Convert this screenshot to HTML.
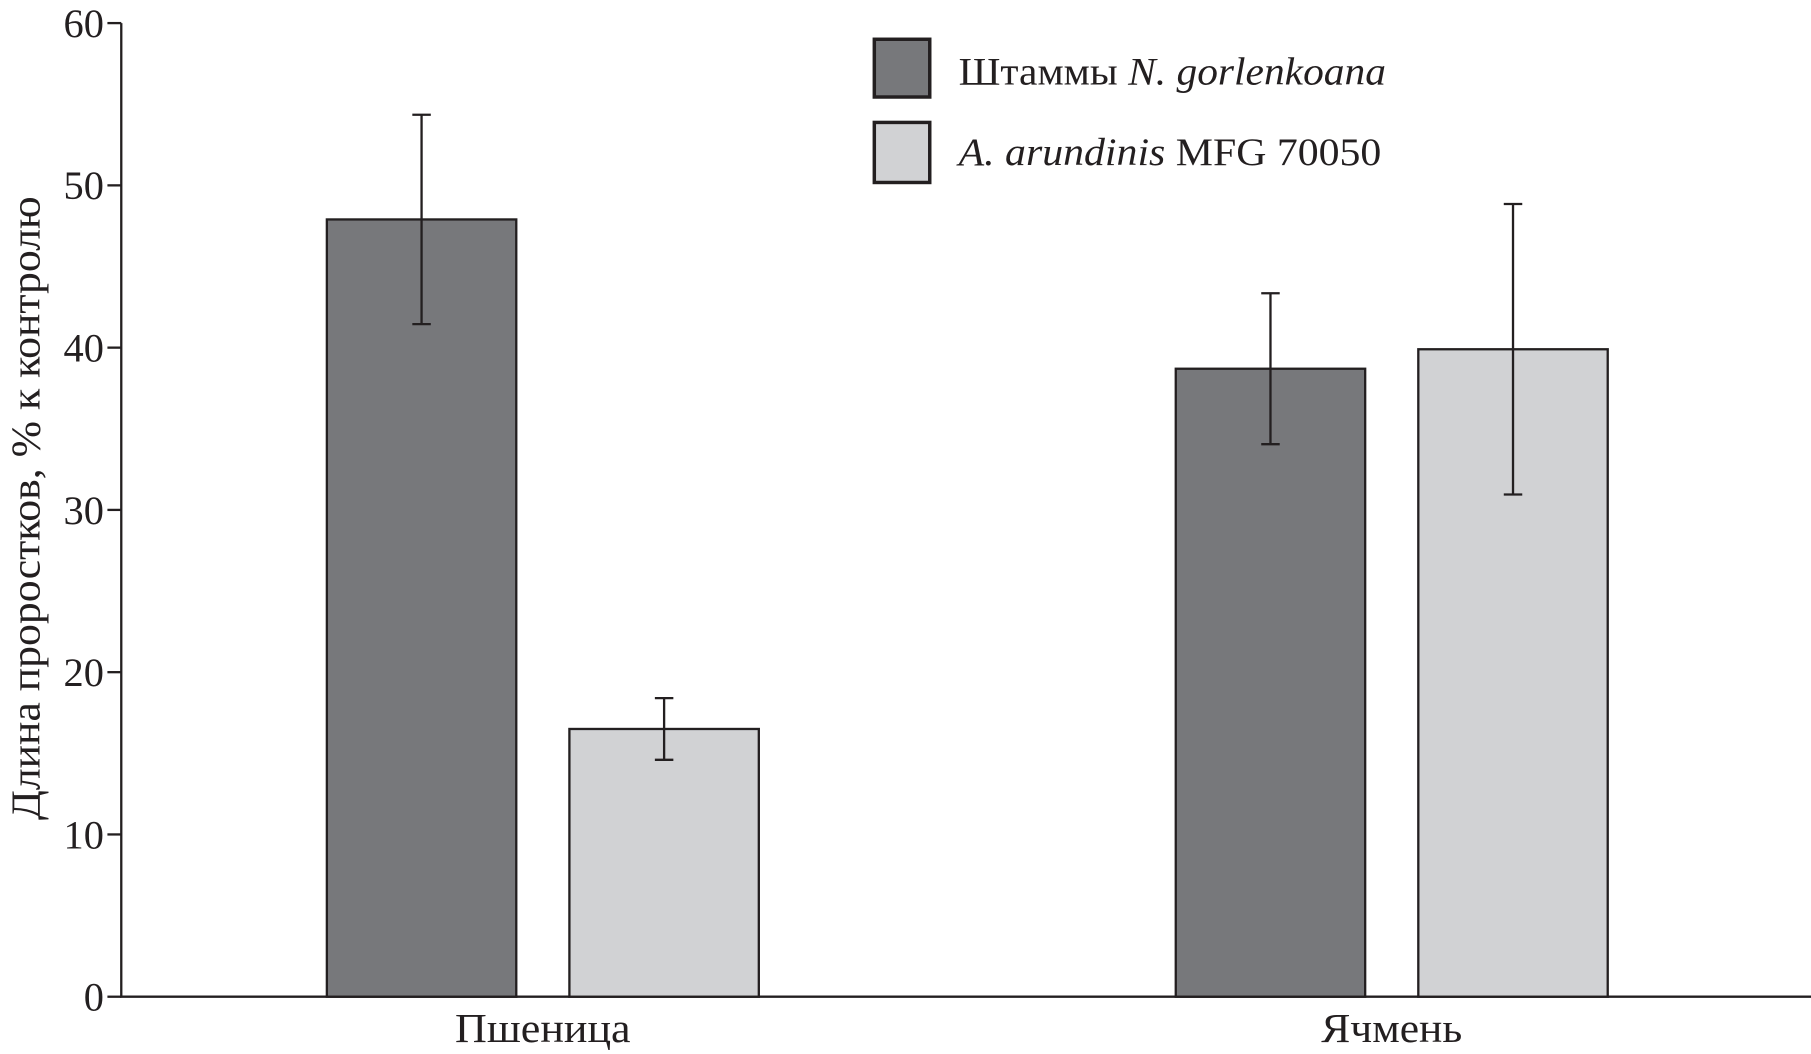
<!DOCTYPE html>
<html><head><meta charset="utf-8"><style>html,body{margin:0;padding:0;background:#fff}svg{display:block}text{font-family:"Liberation Serif",serif;fill:#231f20}</style></head>
<body>
<svg id="chart" width="1811" height="1054" viewBox="0 0 1568 912.6" preserveAspectRatio="none">
<g id="g"></g>
</svg>
<script>
const categories = ["Пшеница", "Ячмень"];
const seriesNames = ["Штаммы N. gorlenkoana", "A. arundinis MFG 70050"];
const seriesDark = [47.9, 38.7];
const seriesLight = [16.5, 39.9];
const errDark = [6.45, 4.65];
const errLight = [1.9, 8.95];
const yTicks = [0, 10, 20, 30, 40, 50, 60];

const NS = "http://www.w3.org/2000/svg";
const g = document.getElementById('g');
function mk(tag, attrs, parent) {
  const e = document.createElementNS(NS, tag);
  for (const k in attrs) e.setAttribute(k, attrs[k]);
  (parent || g).appendChild(e);
  return e;
}
const y0 = 863, yTop = 20, axX = 105;
const yScale = v => y0 - (v / 60) * (y0 - yTop);
const groupCenters = [470, 1205];
const xScale = i => groupCenters[i];
const barW = 164, gap = 46;

const ya = mk('line', {x1: axX, y1: yTop, x2: axX, y2: y0, stroke: '#231f20', 'stroke-width': 2});


const xa = mk('line', {x1: axX - 1, y1: y0, x2: 1568, y2: y0, stroke: '#231f20', 'stroke-width': 2});



yTicks.forEach(t => {
  const y = yScale(t);
  const tk = mk('line', {x1: axX - 12, y1: y, x2: axX, y2: y, stroke: '#231f20', 'stroke-width': 2});
  
  
  const tl = mk('text', {x: 90, y: y + 12, 'text-anchor': 'end', 'font-size': 35});
  tl.textContent = t;
  
  
});

const yt = mk('text', {x: 0, y: 0, 'text-anchor': 'middle', 'font-size': 36, textLength: 540, lengthAdjust: 'spacingAndGlyphs', transform: 'translate(34,440) rotate(-90)'});
yt.textContent = 'Длина проростков, % к контролю';



function bar(cx, v, e, fill, name) {
  const top = yScale(v);
  const r = mk('rect', {x: cx, y: top, width: barW, height: y0 - top, fill: fill, stroke: '#231f20', 'stroke-width': 2});
  
  
  const mid = cx + barW / 2;
  const hi = yScale(v + e), lo = yScale(v - e);
  const eb = mk('path', {d: `M${mid},${hi}V${lo}M${mid - 8},${hi}H${mid + 8}M${mid - 8},${lo}H${mid + 8}`, stroke: '#231f20', 'stroke-width': 2, fill: 'none'});
  
  
}
const labelLens = [152, 122];
categories.forEach((c, i) => {
  const cx = xScale(i);
  bar(cx - gap / 2 - barW, seriesDark[i], errDark[i], '#77787b', 'bar-dark-' + i);
  bar(cx + gap / 2, seriesLight[i], errLight[i], '#d1d2d4', 'bar-light-' + i);
  const xl = mk('text', {x: cx, y: 902, 'text-anchor': 'middle', 'font-size': 36, textLength: labelLens[i], lengthAdjust: 'spacingAndGlyphs'});
  xl.textContent = c;
  
  
});

const lg = mk('g', {});


const l1 = mk('rect', {x: 757, y: 34, width: 48, height: 50, fill: '#77787b', stroke: '#231f20', 'stroke-width': 3}, lg);


const l2 = mk('rect', {x: 757, y: 106, width: 48, height: 52, fill: '#d1d2d4', stroke: '#231f20', 'stroke-width': 3}, lg);


const t1 = mk('text', {x: 830, y: 73, 'font-size': 34, textLength: 370, lengthAdjust: 'spacingAndGlyphs'}, lg);
t1.innerHTML = 'Штаммы <tspan font-style="italic">N. gorlenkoana</tspan>';


const t2 = mk('text', {x: 830, y: 143, 'font-size': 34, textLength: 366, lengthAdjust: 'spacingAndGlyphs'}, lg);
t2.innerHTML = '<tspan font-style="italic">A. arundinis</tspan> MFG 70050';


</script>
</body></html>
